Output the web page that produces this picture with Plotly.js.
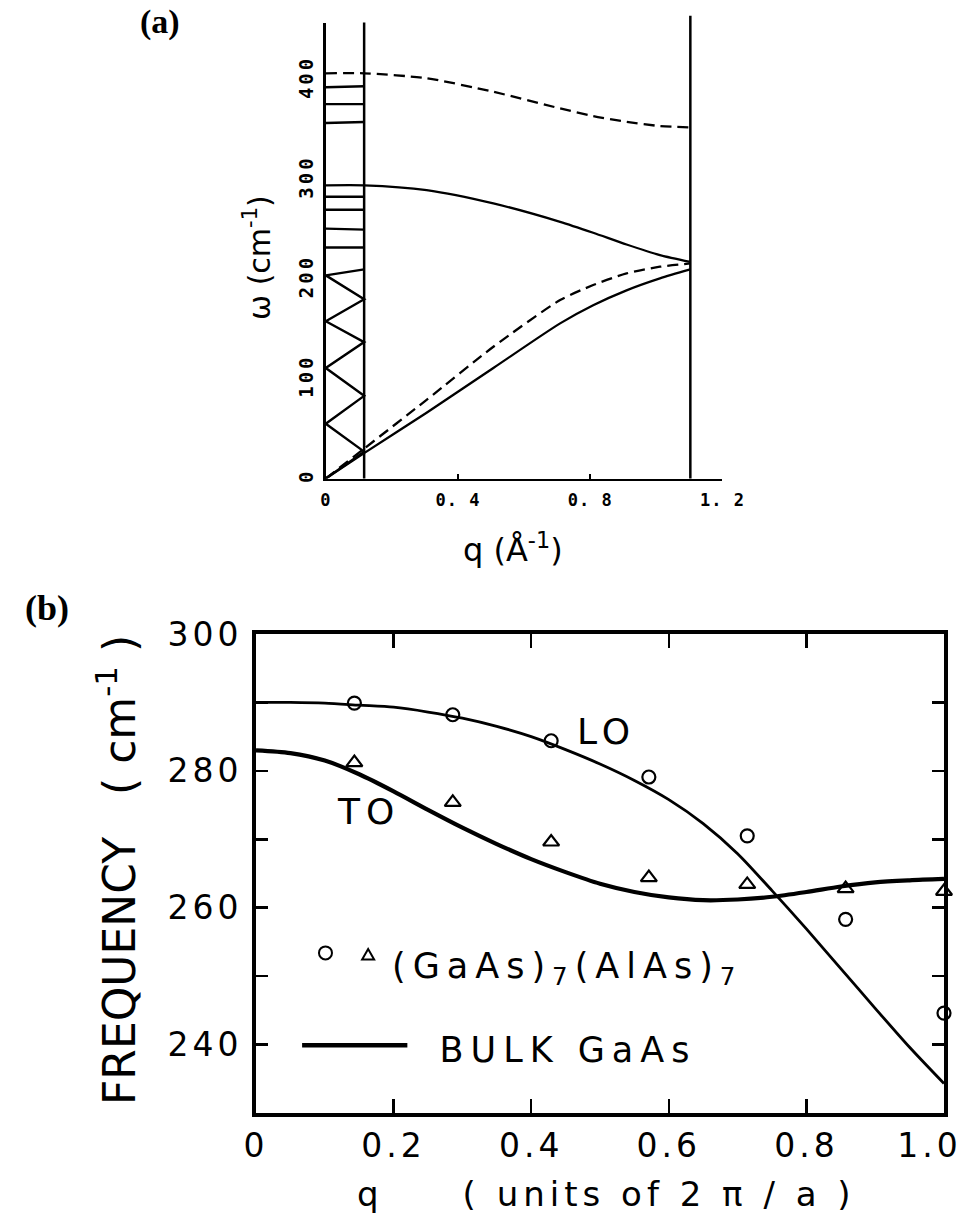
<!DOCTYPE html>
<html>
<head>
<meta charset="utf-8">
<script src="https://cdn.plot.ly/plotly-3.0.1.min.js"></script>
<style>
html,body{margin:0;padding:0;background:#fff;}
#chart{width:960px;height:1216px;}
.x2tick text, .y2tick text {letter-spacing:4px;}
.xtick text {letter-spacing:1px;}
.ytick text {letter-spacing:3px;}
g.annotation[data-index="5"] text {letter-spacing:5px;}
g.annotation[data-index="6"] text, g.annotation[data-index="7"] text {letter-spacing:6px;}
g.annotation[data-index="8"] text, g.annotation[data-index="9"] text {letter-spacing:7px;}
</style>
</head>
<body>
<div id="chart"></div>
<script>
// ---------- Panel (a): dispersion of bulk / folded phonons ----------
const qA = [0, 0.116, 0.305, 0.507, 0.709, 0.809, 0.910, 1.011, 1.103];   // Å^-1
const omegaOpticalDashed  = [407, 407, 402, 388.4, 371.7, 364, 358.2, 354, 352.6];
const omegaOpticalSolid   = [294.5, 294.5, 289.7, 276.3, 257.8, 246.8, 235.0, 224.4, 217.5];
const omegaAcousticDashed = [0, 30, 79, 132.3, 179.2, 194.3, 206, 212.7, 216];
const omegaAcousticSolid  = [0, 25.5, 66, 111, 155.8, 174, 189, 201, 210];
const miniZoneEdge = 0.116;
const zoneEdge = 1.103;
// folded optical branches inside the mini-zone (value at q=0, value at mini-zone edge)
const foldedLeft  = [393, 376, 357, 283, 270, 251, 232];
const foldedRight = [394, 376, 358, 283, 270, 250, 232];
// folded acoustic zig-zag vertices (q=0 side, mini-zone edge side)
const zigzagLeft  = [0, 55, 111, 158, 204];
const zigzagRight = [27, 83, 137, 180, 210];
const tickValsA_x = [0, 0.4, 0.8, 1.2];
const tickTextA_x = ['0', '0. 4', '0. 8', '1. 2'];
const tickValsA_y = [0, 100, 200, 300, 400];

// ---------- Panel (b): superlattice vs bulk GaAs ----------
const qBulk = [0, 0.05, 0.1, 0.15, 0.2, 0.25, 0.3, 0.35, 0.4, 0.45, 0.5,
               0.55, 0.6, 0.65, 0.7, 0.75, 0.8, 0.85, 0.9, 0.95, 1.0];
const omegaBulkLO = [290.0, 290.0, 289.9, 289.6, 289.3, 288.6, 287.7, 286.5, 285.0, 283.1, 281.0,
                     278.6, 275.8, 272.3, 267.9, 262.5, 256.9, 251.1, 245.3, 239.6, 234.3];
const omegaBulkTO = [283.0, 282.6, 281.5, 279.5, 277.0, 274.3, 271.7, 269.3, 267.1, 265.2, 263.5,
                     262.3, 261.5, 261.1, 261.2, 261.6, 262.3, 263.1, 263.7, 264.0, 264.2];
const qSL = [0.143, 0.286, 0.429, 0.571, 0.714, 0.857, 1.0];
const omegaSL_LO = [289.9, 288.2, 284.4, 279.1, 270.5, 258.3, 244.6];
const omegaSL_TO = [281.2, 275.4, 269.6, 264.4, 263.4, 262.8, 262.4];
const tickValsB_x = [0, 0.2, 0.4, 0.6, 0.8, 1.0];
const tickTextB_x = ['0', '0.2', '0.4', '0.6', '0.8', '1.0\u00a0\u00a0'];
const tickValsB_y = [240, 260, 280, 300];
const minorTickValsB_y = [250, 270, 290];

// ---------- build traces ----------
const black = '#000';
const dashA = '11px,6px';

function curveA(y, dash) {
  return {x: qA, y: y, xaxis: 'x', yaxis: 'y', type: 'scatter', mode: 'lines',
          line: {color: black, width: 2.3, dash: dash, shape: 'spline', smoothing: 0.7},
          hoverinfo: 'skip'};
}

const foldX = [], foldY = [];
for (let i = 0; i < foldedLeft.length; i++) {
  foldX.push(0, miniZoneEdge, null);
  foldY.push(foldedLeft[i], foldedRight[i], null);
}
const zigX = [], zigY = [];
for (let i = 0; i < zigzagLeft.length; i++) {
  zigX.push(0, miniZoneEdge);
  zigY.push(zigzagLeft[i], zigzagRight[i]);
}

const traces = [
  curveA(omegaOpticalDashed, dashA),
  curveA(omegaOpticalSolid, 'solid'),
  curveA(omegaAcousticDashed, dashA),
  curveA(omegaAcousticSolid, 'solid'),
  {x: foldX, y: foldY, xaxis: 'x', yaxis: 'y', type: 'scatter', mode: 'lines',
   line: {color: black, width: 2.4}, connectgaps: false, hoverinfo: 'skip'},
  {x: zigX, y: zigY, xaxis: 'x', yaxis: 'y', type: 'scatter', mode: 'lines',
   line: {color: black, width: 2.4}, hoverinfo: 'skip'},
  // panel (b)
  {x: qBulk, y: omegaBulkLO, xaxis: 'x2', yaxis: 'y2', type: 'scatter', mode: 'lines',
   line: {color: black, width: 2.8, shape: 'spline', smoothing: 0.8}, name: 'bulk LO'},
  {x: qBulk, y: omegaBulkTO, xaxis: 'x2', yaxis: 'y2', type: 'scatter', mode: 'lines',
   line: {color: black, width: 4.2, shape: 'spline', smoothing: 0.8}, name: 'bulk TO'},
  {x: qSL, y: omegaSL_LO, xaxis: 'x2', yaxis: 'y2', type: 'scatter', mode: 'markers',
   cliponaxis: false,
   marker: {symbol: 'circle-open', size: 13, color: black, line: {width: 2.2, color: black}},
   name: 'SL LO'},
  {x: qSL, y: omegaSL_TO, xaxis: 'x2', yaxis: 'y2', type: 'scatter', mode: 'markers',
   cliponaxis: false,
   marker: {symbol: 'triangle-up-open', size: 14, color: black, line: {width: 2.2, color: black}},
   name: 'SL TO'}
];

// ---------- layout ----------
const W = 960, H = 1216;
const px = v => v / W;
const py = v => 1 - v / H;

const monoFontX = {family: 'DejaVu Sans Mono', size: 17, weight: 'bold', color: black};
const monoFontY = {family: 'DejaVu Sans Mono', size: 19, weight: 'bold', color: black};
const sansB = {family: 'DejaVu Sans', size: 33, color: black};

function note(text, x, y, font, extra) {
  return Object.assign({text: text, xref: 'paper', yref: 'paper', x: x, y: y,
    xanchor: 'center', yanchor: 'middle', showarrow: false, font: font}, extra || {});
}

const layout = {
  width: W, height: H,
  margin: {l: 0, r: 0, t: 0, b: 0},
  paper_bgcolor: '#fff', plot_bgcolor: '#fff',
  showlegend: false,
  xaxis: {
    domain: [px(325.8), px(722.4)], range: [0, 1.2], anchor: 'y',
    showline: true, linecolor: black, linewidth: 2.5,
    ticks: 'inside', ticklen: 5, tickwidth: 2, tickcolor: black,
    tickvals: tickValsA_x, ticktext: tickTextA_x, tickfont: monoFontX,
    ticklabelstandoff: 5, ticklabeloverflow: 'allow',
    showgrid: false, zeroline: false, fixedrange: true
  },
  yaxis: {
    domain: [py(478.5), py(22.5)], range: [0, 458], anchor: 'x',
    showline: true, linecolor: black, linewidth: 2.5,
    ticks: '', tickvals: tickValsA_y, tickangle: -90, tickfont: monoFontY,
    ticklabelstandoff: 3,
    showgrid: false, zeroline: false, fixedrange: true
  },
  xaxis2: {
    domain: [px(256), px(944)], range: [0, 1], anchor: 'y2',
    showline: true, mirror: 'ticks', linecolor: black, linewidth: 4,
    ticks: 'inside', ticklen: 14, tickwidth: 2.5, tickcolor: black,
    tickvals: tickValsB_x, ticktext: tickTextB_x, tickfont: sansB,
    ticklabelstandoff: 0, ticklabeloverflow: 'allow',
    showgrid: false, zeroline: false, fixedrange: true
  },
  yaxis2: {
    domain: [py(1113), py(634)], range: [230, 300], anchor: 'x2',
    showline: true, mirror: 'ticks', linecolor: black, linewidth: 4,
    ticks: 'inside', ticklen: 12, tickwidth: 2.5, tickcolor: black,
    tickvals: tickValsB_y, tickfont: sansB,
    minor: {tickvals: minorTickValsB_y, ticks: 'inside', ticklen: 12, tickwidth: 2.5,
            tickcolor: black, showgrid: false},
    ticklabelstandoff: 3, ticklabeloverflow: 'allow',
    showgrid: false, zeroline: false, fixedrange: true
  },
  shapes: [
    // Brillouin-zone boundaries in panel (a)
    {type: 'line', xref: 'x', yref: 'y domain', x0: miniZoneEdge, x1: miniZoneEdge, y0: 0, y1: 1.0,
     line: {color: black, width: 2.5}},
    {type: 'line', xref: 'x', yref: 'y domain', x0: zoneEdge, x1: zoneEdge, y0: 0, y1: 1.015,
     line: {color: black, width: 2.5}},
    // legend glyphs in panel (b)
    {type: 'circle', xref: 'x2', yref: 'y2', xsizemode: 'pixel', ysizemode: 'pixel',
     xanchor: 0.101, yanchor: 253.4, x0: -6.5, x1: 6.5, y0: -6.5, y1: 6.5,
     line: {color: black, width: 2}},
    {type: 'path', xref: 'x2', yref: 'y2', xsizemode: 'pixel', ysizemode: 'pixel',
     xanchor: 0.163, yanchor: 253.1, path: 'M-6,-4.5 L6,-4.5 L0,6 Z',
     line: {color: black, width: 2}},
    {type: 'line', xref: 'x2', yref: 'y2', x0: 0.067, x1: 0.22, y0: 239.9, y1: 239.9,
     line: {color: black, width: 4.5}}
  ],
  annotations: [
    note('(a)', px(160), py(22), {family: 'Liberation Serif', size: 34, weight: 'bold', color: black}),
    note('ω (cm<sup>-1</sup>)', px(257), py(258), {family: 'DejaVu Sans', size: 30, color: black},
         {textangle: -90}),
    note('q (Å<sup>-1</sup>)', px(513), py(548), {family: 'DejaVu Sans', size: 32, color: black}),
    note('(b)', px(47), py(608), {family: 'Liberation Serif', size: 36, weight: 'bold', color: black}),
    note('FREQUENCY\u00a0\u00a0\u00a0( cm<sup>-1</sup> )', px(116), py(870),
         {family: 'DejaVu Sans', size: 44, color: black}, {textangle: -90}),
    note('q\u00a0\u00a0\u00a0\u00a0\u00a0( units of 2 π / a )', px(606), py(1194),
         {family: 'DejaVu Sans', size: 34, color: black}),
    {text: 'LO', xref: 'x2', yref: 'y2', x: 0.509, y: 285.8, showarrow: false,
     xanchor: 'center', yanchor: 'middle',
     font: {family: 'DejaVu Sans', size: 36, color: black}},
    {text: 'TO', xref: 'x2', yref: 'y2', x: 0.163, y: 274.0, showarrow: false,
     xanchor: 'center', yanchor: 'middle',
     font: {family: 'DejaVu Sans', size: 36, color: black}},
    note('(GaAs)<sub>7</sub>(AlAs)<sub>7</sub>', px(567), py(968),
         {family: 'DejaVu Sans', size: 35, color: black}),
    note('BULK GaAs', px(568), py(1050),
         {family: 'DejaVu Sans', size: 35, color: black})
  ]
};

Plotly.newPlot('chart', traces, layout, {staticPlot: true, displayModeBar: false});
</script>
</body>
</html>
